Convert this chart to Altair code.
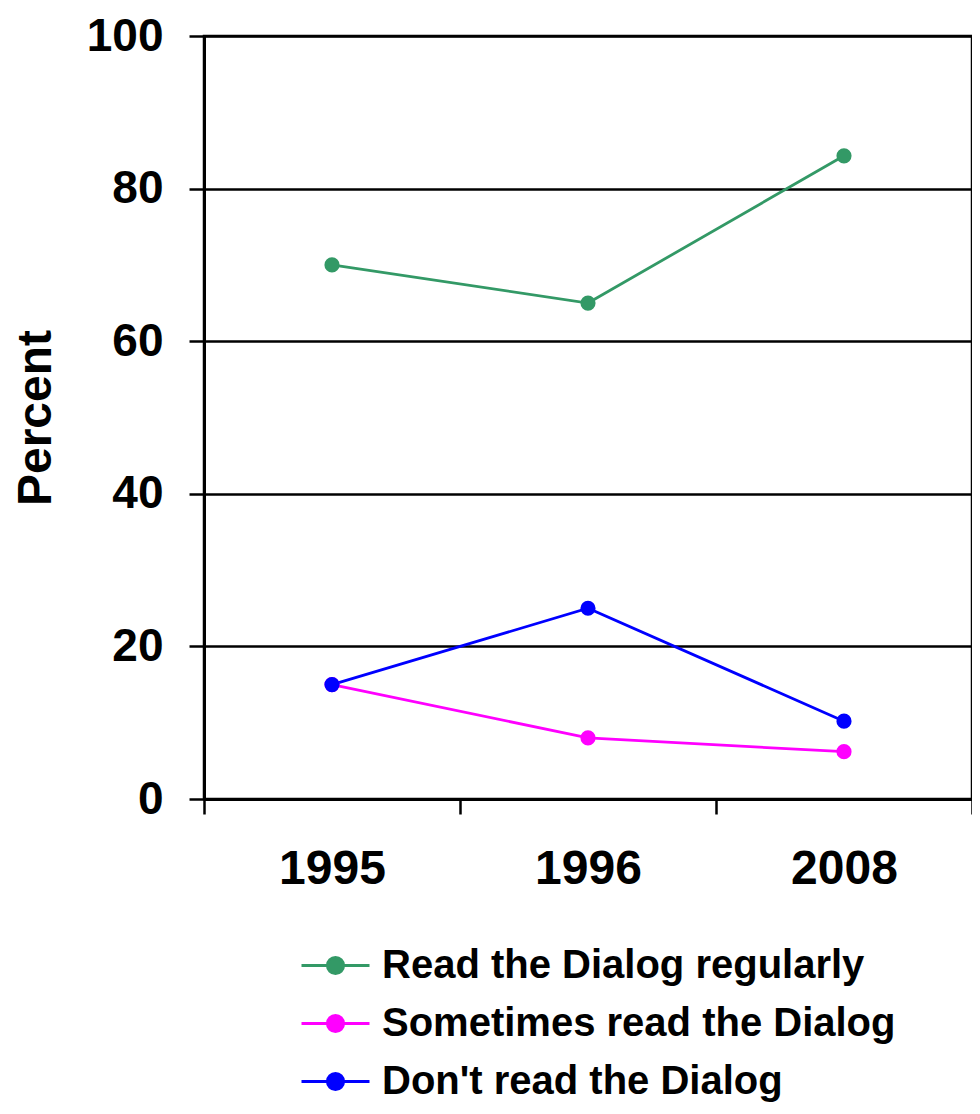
import altair as alt
import pandas as pd

years = ["1995", "1996", "2008"]
series = ["Read the Dialog regularly", "Sometimes read the Dialog", "Don't read the Dialog"]
colors = ["#339966", "#FF00FF", "#0000FF"]
read_regularly = [70, 65, 84.3]
sometimes_read = [15, 8, 6.2]
dont_read = [15, 25, 10.2]

rows = []
for name, vals in zip(series, [read_regularly, sometimes_read, dont_read]):
    for i, (y, v) in enumerate(zip(years, vals)):
        rows.append({"Year": y, "Series": name, "Percent": v, "order": i})
df = pd.DataFrame(rows)

FONT = "Liberation Sans"
sym_path = "M-1,0L1,0M-0.24,0A0.24,0.24,0,1,0,0.24,0A0.24,0.24,0,1,0,-0.24,0Z"

chart = alt.Chart(df).mark_line(
    strokeWidth=2.8,
    point=alt.OverlayMarkDef(filled=True, size=230, opacity=1),
).encode(
    x=alt.X("Year:O", sort=years,
            scale=alt.Scale(type="band", paddingInner=0, paddingOuter=0),
            bandPosition=0.5,
            axis=alt.Axis(title=None, tickBand="extent", labelAngle=0,
                          labelFontSize=48, labelFont=FONT, labelFontWeight="bold",
                          labelColor="black", labelPadding=31,
                          tickSize=15, tickWidth=2.5, tickColor="black",
                          domainColor="black", domainWidth=3, grid=False)),
    y=alt.Y("Percent:Q",
            scale=alt.Scale(domain=[0, 100], nice=False, zero=True),
            axis=alt.Axis(title="Percent", values=[0, 20, 40, 60, 80, 100],
                          titleFontSize=48, titleFont=FONT, titleFontWeight="bold",
                          titleColor="black", titlePadding=26,
                          labelFontSize=46, labelFont=FONT, labelFontWeight="bold",
                          labelColor="black", labelPadding=26,
                          tickSize=15, tickWidth=2.5, tickColor="black",
                          domainColor="black", domainWidth=3,
                          grid=True, gridColor="black", gridWidth=2.5, gridOpacity=1)),
    color=alt.Color("Series:N",
                    scale=alt.Scale(domain=series, range=colors),
                    legend=alt.Legend(title=None, orient="none", direction="vertical",
                                      legendX=96, legendY=894,
                                      symbolType=sym_path, symbolSize=4624,
                                      symbolStrokeWidth=2.8,
                                      labelFontSize=40, labelFont=FONT,
                                      labelFontWeight="bold", labelColor="black",
                                      labelOffset=11, rowPadding=2, labelLimit=700)),
    order=alt.Order("order:Q"),
).properties(
    width=768, height=763,
    autosize=alt.AutoSizeParams(type="none"),
    padding={"left": 196, "top": 28, "right": 0, "bottom": 309},
).configure_view(
    stroke="black", strokeWidth=2.5
)

chart.save("out.html", embed_options={"renderer": "svg", "actions": False})
